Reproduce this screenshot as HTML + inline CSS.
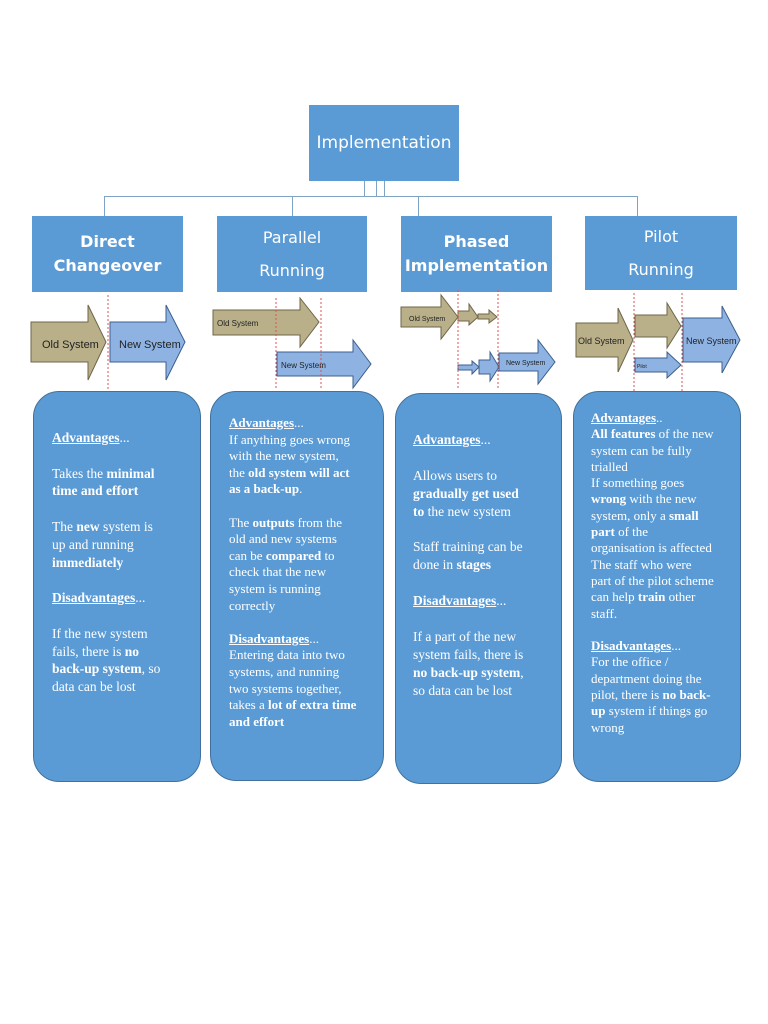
<!DOCTYPE html>
<html><head><style>
body{margin:0;width:768px;height:1024px;background:#fff;position:relative;overflow:hidden}
.hb{position:absolute;background:#5b9bd5;color:#fff;font-family:"DejaVu Sans","Liberation Sans",sans-serif;text-align:center;display:flex;align-items:center;justify-content:center;flex-direction:column}
.cb{position:absolute;background:#5b9bd5;border:1.5px solid #41719c;border-radius:26px;box-sizing:border-box}
.t{position:absolute;color:#fff;font-family:"Liberation Serif",serif;white-space:nowrap}
.t u{font-weight:bold}
.ln{position:absolute;background:#7fa3c4}
</style></head><body>
<div class="hb" style="left:309px;top:105px;width:150px;height:76px;font-size:17px;">Implementation</div>
<div class="ln" style="left:364px;top:181px;width:1px;height:16px"></div>
<div class="ln" style="left:376px;top:181px;width:1px;height:16px"></div>
<div class="ln" style="left:384px;top:181px;width:1px;height:16px"></div>
<div class="ln" style="left:104px;top:196px;width:533px;height:1px"></div>
<div class="ln" style="left:104px;top:196px;width:1px;height:20px"></div>
<div class="ln" style="left:292px;top:196px;width:1px;height:20px"></div>
<div class="ln" style="left:418px;top:196px;width:1px;height:20px"></div>
<div class="ln" style="left:637px;top:196px;width:1px;height:20px"></div>

<div class="hb" style="left:32px;top:216px;width:151px;height:76px;font-size:16px;font-weight:bold;line-height:24px">Direct<br>Changeover</div>
<div class="hb" style="left:217px;top:216px;width:150px;height:76px;font-size:16px;line-height:33px">Parallel<br>Running</div>
<div class="hb" style="left:401px;top:216px;width:151px;height:76px;font-size:16px;font-weight:bold;line-height:24px">Phased<br>Implementation</div>
<div class="hb" style="left:585px;top:216px;width:152px;height:74px;font-size:16px;line-height:33px">Pilot<br>Running</div>

<svg style="position:absolute;left:0;top:290px" width="768" height="105" font-family="Liberation Sans Narrow, Liberation Sans, sans-serif">
<g stroke-width="1">
<!-- direct -->
<polygon points="31,32 88,32 88,15 106,52 88,90 88,72 31,72" fill="#b9b08a" stroke="#6d6648"/>
<text x="42" y="58" font-size="11" fill="#222">Old System</text>
<polygon points="110,32 166,32 166,15 185,52 166,90 166,72 110,72" fill="#8eb3e3" stroke="#3c5f8c"/>
<text x="119" y="58" font-size="11" fill="#222">New System</text>
<line x1="108" y1="5" x2="108" y2="100" stroke="#e05050" stroke-dasharray="2,2"/>
<!-- parallel -->
<polygon points="213,20 300,20 300,8 319,32 300,57 300,45 213,45" fill="#b9b08a" stroke="#6d6648"/>
<text x="217" y="36" font-size="8" fill="#222">Old System</text>
<polygon points="277,62 353,62 353,50 371,74 353,98 353,86 277,86" fill="#8eb3e3" stroke="#3c5f8c"/>
<text x="281" y="78" font-size="8" fill="#222">New System</text>
<line x1="276" y1="8" x2="276" y2="98" stroke="#e05050" stroke-dasharray="2,2"/>
<line x1="321" y1="8" x2="321" y2="98" stroke="#e05050" stroke-dasharray="2,2"/>
<!-- phased -->
<polygon points="401,17 441,17 441,5 458,27 441,49 441,37 401,37" fill="#b9b08a" stroke="#6d6648"/>
<text x="409" y="31" font-size="7" fill="#222">Old System</text>
<polygon points="458,21 469,21 469,14 478,27 469,35 469,31 458,31" fill="#b9b08a" stroke="#6d6648"/>
<polygon points="478,24 489,24 489,20 497,27 489,33 489,29 478,29" fill="#b9b08a" stroke="#6d6648"/>
<polygon points="458,75 472,75 472,71 479,77 472,84 472,80 458,80" fill="#8eb3e3" stroke="#3c5f8c"/>
<polygon points="479,70 490,70 490,62 499,77 490,91 490,84 479,84" fill="#8eb3e3" stroke="#3c5f8c"/>
<polygon points="499,63 538,63 538,50 555,72 538,94 538,81 499,81" fill="#8eb3e3" stroke="#3c5f8c"/>
<text x="506" y="75" font-size="7" fill="#222">New System</text>
<line x1="458" y1="0" x2="458" y2="100" stroke="#e05050" stroke-dasharray="2,2"/>
<line x1="498" y1="0" x2="498" y2="100" stroke="#e05050" stroke-dasharray="2,2"/>
<!-- pilot -->
<polygon points="576,33 618,33 618,18 633,50 618,82 618,67 576,67" fill="#b9b08a" stroke="#6d6648"/>
<text x="578" y="54" font-size="9" fill="#222">Old System</text>
<polygon points="635,25 667,25 667,13 681,36 667,58 667,47 635,47" fill="#b9b08a" stroke="#6d6648"/>
<polygon points="635,68 667,68 667,62 681,75 667,88 667,82 635,82" fill="#8eb3e3" stroke="#3c5f8c"/>
<text x="637" y="78" font-size="5" fill="#222">Pilot</text>
<polygon points="683,28 722,28 722,16 740,50 722,83 722,72 683,72" fill="#8eb3e3" stroke="#3c5f8c"/>
<text x="686" y="54" font-size="9" fill="#222">New System</text>
<line x1="634" y1="3" x2="634" y2="105" stroke="#e05050" stroke-dasharray="2,2"/>
<line x1="682" y1="3" x2="682" y2="105" stroke="#e05050" stroke-dasharray="2,2"/>
</g></svg>

<div class="cb" style="left:33px;top:391px;width:168px;height:391px"></div>
<div class="cb" style="left:210px;top:391px;width:174px;height:390px"></div>
<div class="cb" style="left:395px;top:393px;width:167px;height:391px"></div>
<div class="cb" style="left:573px;top:391px;width:168px;height:391px"></div>

<div class="t" style="left:52px;top:429px;font-size:13.5px;line-height:17.8px">
<u>Advantages</u>...<br><br>Takes the <b>minimal</b><br><b>time and effort</b><br><br>The <b>new</b> system is<br>up and running<br><b>immediately</b><br><br><u>Disadvantages</u>...<br><br>If the new system<br>fails, there is <b>no</b><br><b>back-up system</b>, so<br>data can be lost</div>

<div class="t" style="left:229px;top:415px;font-size:13px;line-height:16.6px">
<u>Advantages</u>...<br>If anything goes wrong<br>with the new system,<br>the <b>old system will act</b><br><b>as a back-up</b>.<br><br>The <b>outputs</b> from the<br>old and new systems<br>can be <b>compared</b> to<br>check that the new<br>system is running<br>correctly<br><br><u>Disadvantages</u>...<br>Entering data into two<br>systems, and running<br>two systems together,<br>takes a <b>lot of extra time</b><br><b>and effort</b></div>

<div class="t" style="left:413px;top:431px;font-size:13.5px;line-height:17.9px">
<u>Advantages</u>...<br><br>Allows users to<br><b>gradually get used</b><br><b>to</b> the new system<br><br>Staff training can be<br>done in <b>stages</b><br><br><u>Disadvantages</u>...<br><br>If a part of the new<br>system fails, there is<br><b>no back-up system</b>,<br>so data can be lost</div>

<div class="t" style="left:591px;top:410px;font-size:13px;line-height:16.3px">
<u>Advantages</u>..<br><b>All features</b> of the new<br>system can be fully<br>trialled<br>If something goes<br><b>wrong</b> with the new<br>system, only a <b>small</b><br><b>part</b> of the<br>organisation is affected<br>The staff who were<br>part of the pilot scheme<br>can help <b>train</b> other<br>staff.<br><br><u>Disadvantages</u>...<br>For the office /<br>department doing the<br>pilot, there is <b>no back-</b><br><b>up</b> system if things go<br>wrong</div>
</body></html>
